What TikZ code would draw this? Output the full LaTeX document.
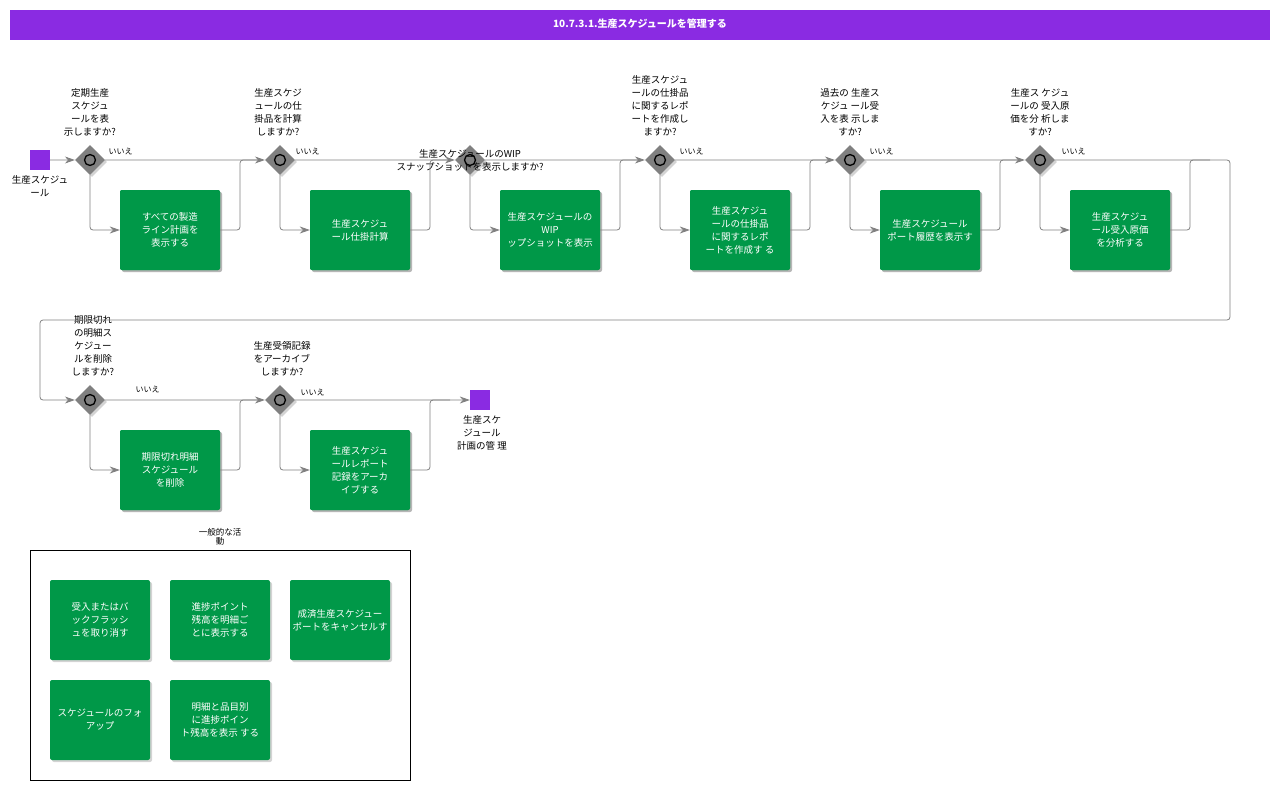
\documentclass[tikz,border=0pt]{standalone}
\usepackage{fontspec}
\setmainfont{Noto Sans CJK JP}
\usetikzlibrary{shadows,arrows.meta}
\definecolor{pur}{HTML}{8A2BE2}
\definecolor{grn}{HTML}{009848}
\definecolor{gln}{HTML}{808080}
\begin{document}
\begin{tikzpicture}[x=1pt,y=-1pt,
  box/.style={fill=grn,rounded corners=2pt,minimum width=100pt,minimum height=80pt,text=white,align=center,font=\fontsize{9.5}{13}\selectfont,drop shadow={shadow xshift=2pt,shadow yshift=-2pt,opacity=0.35},inner sep=0pt},
  dia/.style={fill=gln,minimum width=21pt,minimum height=21pt,rotate=45,inner sep=0pt,drop shadow={shadow xshift=2pt,shadow yshift=-2pt,opacity=0.35}},
  term/.style={fill=pur,minimum width=20pt,minimum height=20pt,inner sep=0pt},
  q/.style={align=center,font=\fontsize{9.5}{13}\selectfont,anchor=south},
  no/.style={font=\fontsize{8}{9}\selectfont,anchor=south west},
  ln/.style={draw=gln,line width=0.8pt,rounded corners=3pt},
  ar/.style={ln,-{Stealth[length=10pt,width=7pt]}}]
\useasboundingbox (0,0) rectangle (1280,790);
\fill[pur] (10,10) rectangle (1270,40);
\node[text=white,font=\bfseries\fontsize{10}{12}\selectfont] (title) at (640,24) {10.7.3.1.生産スケジュールを管理する};
% row 1
\node[term] (s) at (40,160) {};
\node[font=\fontsize{9.5}{13}\selectfont,align=center,anchor=north] (sl) at (40,172) {生産スケジュ\\ール};
\foreach \i/\x in {1/90,2/280,3/470,4/660,5/850,6/1040}{
  \node[dia] (d\i) at (\x,160) {};
  \draw[black,line width=1.3pt] (\x,160) circle (5.5);
  \node[box] (b\i) at (\x+80,230) {};
}
\foreach \i/\x in {7/90,8/280}{
  \node[dia] (d\i) at (\x,400) {};
  \draw[black,line width=1.3pt] (\x,400) circle (5.5);
  \node[box] (b\i) at (\x+80,470) {};
}
\coordinate (d6r) at (1055,160);
\node[term] (e) at (480,400) {};
\node[font=\fontsize{9.5}{13}\selectfont,align=center,anchor=north] (el) at (482,412) {生産スケ\\ジュール\\計画の管 理};
\node[box] at (b1) {すべての製造\\ライン計画を\\表示する};
\node[box] at (b2) {生産スケジュ\\ール仕掛計算};
\node[box] at (b3) {生産スケジュールの\\WIP\\ップショットを表示};
\node[box] at (b4) {生産スケジュ\\ールの仕掛品\\に関するレポ\\ートを作成す る};
\node[box] at (b5) {生産スケジュール\\ポート履歴を表示す};
\node[box] at (b6) {生産スケジュ\\ール受入原価\\を分析する};
\node[box] at (b7) {期限切れ明細\\スケジュール\\を削除};
\node[box] at (b8) {生産スケジュ\\ールレポート\\記録をアーカ\\イブする};
\node[q] (q1) at (90,140) {定期生産\\スケジュ\\ールを表\\示しますか?};
\node[q] (q2) at (278,140) {生産スケジ\\ュールの仕\\掛品を計算\\しますか?};
\node[q,anchor=center] (q3) at (470,160) {生産スケジュールのWIP\\スナップショットを表示しますか?};
\node[q] (q4) at (660,140) {生産スケジュ\\ールの仕掛品\\に関するレポ\\ートを作成し\\ますか?};
\node[q] (q5) at (850,140) {過去の 生産ス\\ケジュ ール受\\入を表 示しま\\すか?};
\node[q] (q6) at (1040,140) {生産ス ケジュ\\ールの 受入原\\価を分 析しま\\すか?};
\node[q] (q7) at (93,380) {期限切れ\\の明細ス\\ケジュー\\ルを削除\\しますか?};
\node[q] (q8) at (282,380) {生産受領記録\\をアーカイブ\\しますか?};
\foreach \i/\x in {1/105,2/292,4/676,5/866,6/1058}{\node[no] at (\x,158) {いいえ};}
\node[no] at (132,396) {いいえ};
\node[no] at (297,399) {いいえ};
% connectors
\draw[ar] (s) -- (d1);
\draw[ar] (d1) -- (d2);
\draw[ar] (d2) -- (d3);
\draw[ar] (d3) -- (d4);
\draw[ar] (d4) -- (d5);
\draw[ar] (d5) -- (d6);
\draw[ar] (d6r) -- (1230,160) -- (1230,320) -- (40,320) -- (40,400) -- (d7);
\draw[ar] (d7) -- (d8);
\draw[ar] (d8) -- (e);
\foreach \i/\x in {1/90,2/280,3/470,4/660,5/850,6/1040}{
  \draw[ar] (d\i) |- (b\i);
  \draw[ln] (b\i.east) -- (\x+150,230) -- (\x+150,160) -- (\x+170,160);
}
\draw[ar] (d7) |- (b7);
\draw[ln] (b7.east) -- (240,470) -- (240,400) -- (260,400);
\draw[ar] (d8) |- (b8);
\draw[ln] (b8.east) -- (430,470) -- (430,400) -- (450,400);
% general activities
\node[font=\fontsize{8.5}{9}\selectfont,align=center,anchor=south] (gl) at (220,549) {一般的な活\\動};
\draw[black,line width=0.6pt] (30,550) rectangle (410,780);
\node[box] (g1) at (100,620) {受入またはバ\\ックフラッシ\\ュを取り消す};
\node[box] (g2) at (220,620) {進捗ポイント\\残高を明細ご\\とに表示する};
\node[box] (g3) at (340,620) {成済生産スケジュー\\ポートをキャンセルす};
\node[box] (g4) at (100,720) {スケジュールのフォ\\アップ};
\node[box] (g5) at (220,720) {明細と品目別\\に進捗ポイン\\ト残高を表示 する};
\end{tikzpicture}
\end{document}
